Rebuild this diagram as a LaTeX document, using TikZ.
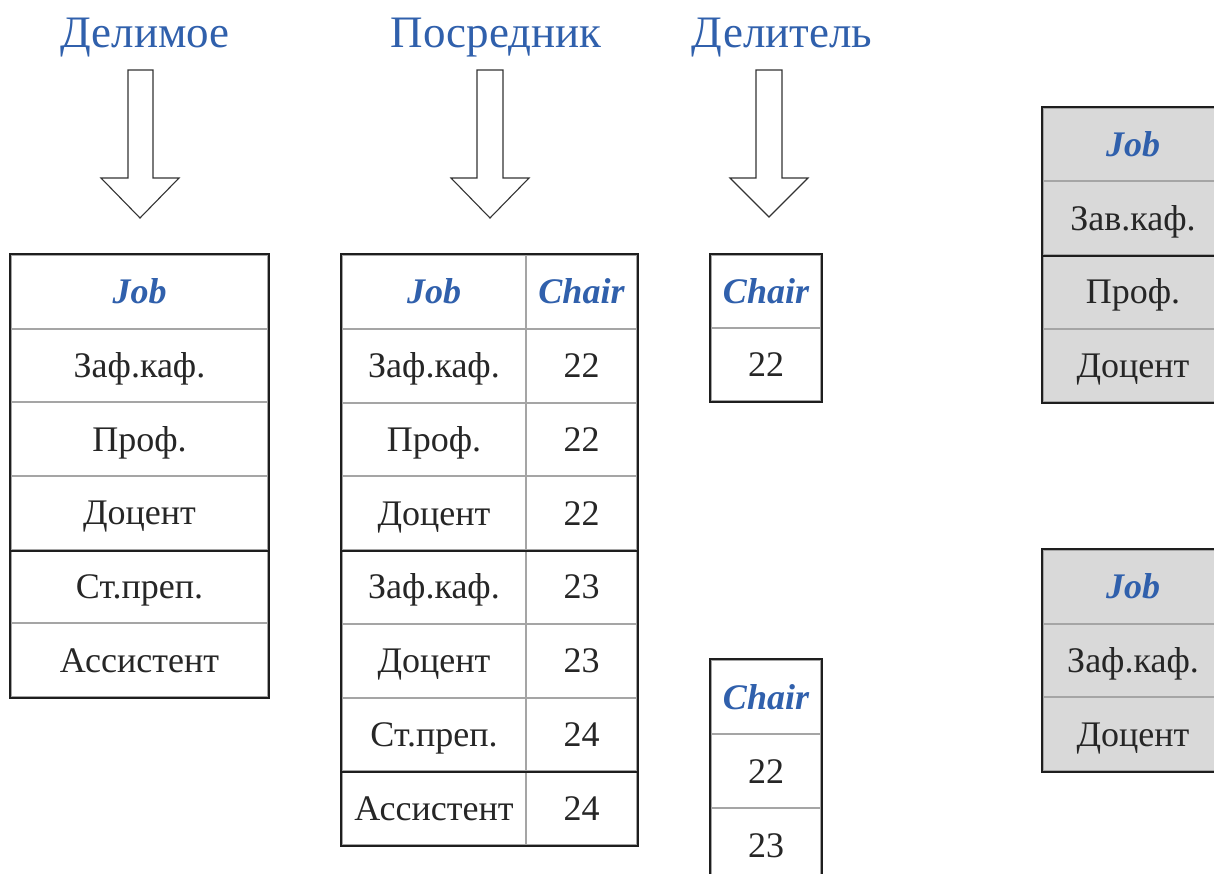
\documentclass[tikz,border=0pt]{standalone}
\usepackage{fontspec}
\setmainfont{Liberation Serif}
\definecolor{hdblue}{RGB}{48,96,172}
\definecolor{gridgray}{RGB}{165,165,165}
\definecolor{framedark}{RGB}{30,30,30}
\definecolor{resgray}{RGB}{217,217,217}
\newcommand{\cellfont}{\fontsize{36}{36}\selectfont}
\newcommand{\hd}[1]{{\color{hdblue}\bfseries\itshape #1}}
\tikzset{
  cell/.style={rectangle, draw=gridgray, line width=2pt, inner sep=0pt,
               font=\cellfont, text=black!85, text height=29pt, text depth=5pt},
  rescell/.style={cell, fill=resgray},
  frame/.style={draw=framedark, line width=2.2pt, line join=miter},
  title/.style={font=\fontsize{45}{45}\selectfont, text=hdblue, anchor=base, inner sep=0pt},
  blockarrow/.style={draw=black!80, line width=1.1pt, fill=white, line join=miter}
}
\begin{document}
\begin{tikzpicture}[x=1pt,y=-1pt]
\clip (0,0) rectangle (1214,874);
\fill[white] (0,0) rectangle (1214,874);

% titles
\node[title] (tA) at (145,48) {Делимое};
\node[title] (tB) at (496,48) {Посредник};
\node[title] (tC) at (782,48) {Делитель};

% block arrows below the titles
\draw[blockarrow] (128,70) -- (153,70) -- (153,178) -- (179,178) -- (140,218)
  -- (101,178) -- (128,178) -- cycle;
\draw[blockarrow] (477,70) -- (503,70) -- (503,178) -- (529,178) -- (490,218)
  -- (451,178) -- (477,178) -- cycle;
\draw[blockarrow] (756,70) -- (782,70) -- (782,178) -- (808,178) -- (769,217)
  -- (730,178) -- (756,178) -- cycle;

% dividend table
\foreach \i/\t in {0/\hd{Job},1/Заф.каф.,2/Проф.,3/Доцент,4/Ст.преп.,5/Ассистент}
  \node[cell, minimum width=257pt, minimum height=73.67pt] (d\i)
    at (139.5,{255+73.67*(\i+0.5)}) {\t};
\draw[frame] (d0.north west) rectangle (d5.south east);
\draw[frame] (d3.south west) -- (d3.south east);

% intermediate table
\foreach \i/\a/\b in {0/\hd{Job}/\hd{Chair},1/Заф.каф./22,2/Проф./22,3/Доцент/22,
                      4/Заф.каф./23,5/Доцент/23,6/Ст.преп./24,7/Ассистент/24}{
  \node[cell, minimum width=184pt, minimum height=73.75pt] (pj\i)
    at (434,{255+73.75*(\i+0.5)}) {\a};
  \node[cell, minimum width=111pt, minimum height=73.75pt] (pc\i)
    at (581.5,{255+73.75*(\i+0.5)}) {\b};
}
\draw[frame] (pj0.north west) rectangle (pc7.south east);
\draw[frame] (pj3.south west) -- (pc3.south east);
\draw[frame] (pj6.south west) -- (pc6.south east);

% divisor table (first)
\foreach \i/\t in {0/\hd{Chair},1/22}
  \node[cell, minimum width=110pt, minimum height=73pt] (a\i)
    at (766,{255+73*(\i+0.5)}) {\t};
\draw[frame] (a0.north west) rectangle (a1.south east);

% divisor table (second)
\foreach \i/\t in {0/\hd{Chair},1/22,2/23}
  \node[cell, minimum width=110pt, minimum height=74pt] (b\i)
    at (766,{660+74*(\i+0.5)}) {\t};
\draw[frame] (b0.north west) rectangle (b2.south east);

% quotient table (first)
\foreach \i/\t in {0/\hd{Job},1/Зав.каф.,2/Проф.,3/Доцент}
  \node[rescell, minimum width=180pt, minimum height=73.5pt] (r\i)
    at (1133,{108+73.5*(\i+0.5)}) {\t};
\draw[frame] (r0.north west) rectangle (r3.south east);
\draw[frame] (r1.south west) -- (r1.south east);

% quotient table (second)
\foreach \i/\t in {0/\hd{Job},1/Заф.каф.,2/Доцент}
  \node[rescell, minimum width=180pt, minimum height=73.67pt] (s\i)
    at (1133,{550+73.67*(\i+0.5)}) {\t};
\draw[frame] (s0.north west) rectangle (s2.south east);
\end{tikzpicture}
\end{document}
